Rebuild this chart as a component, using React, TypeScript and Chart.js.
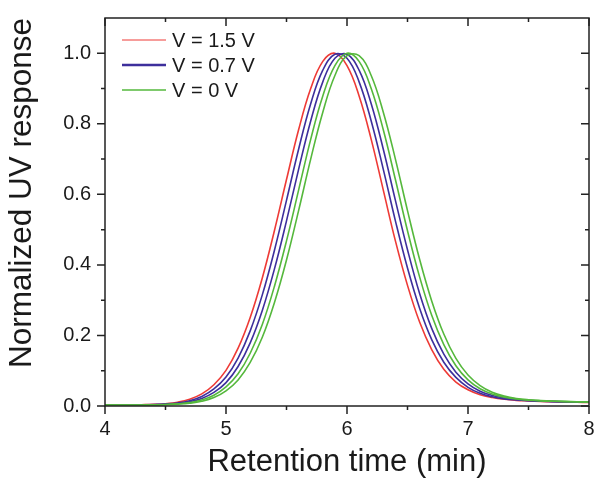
import React, { useEffect, useRef } from 'react';
import { Chart, registerables } from 'chart.js';

Chart.register(...registerables);

// Retention time grid (min)
const retentionTime = [
  4.0, 4.1, 4.2, 4.3, 4.4, 4.5, 4.6, 4.7, 4.8, 4.9,
  5.0, 5.1, 5.2, 5.3, 5.4, 5.5, 5.6, 5.7, 5.8, 5.9,
  6.0, 6.1, 6.2, 6.3, 6.4, 6.5, 6.6, 6.7, 6.8, 6.9,
  7.0, 7.1, 7.2, 7.3, 7.4, 7.5, 7.6, 7.7, 7.8, 7.9,
  8.0,
];

// V = 1.5 V
const v15 = [
  0.003, 0.003, 0.003, 0.0036, 0.0045, 0.0066, 0.0108, 0.0191, 0.0342, 0.0603,
  0.101, 0.164, 0.251, 0.363, 0.497, 0.642, 0.783, 0.9, 0.977, 1.0,
  0.965, 0.879, 0.756, 0.612, 0.468, 0.342, 0.238, 0.16, 0.104, 0.068,
  0.046, 0.032, 0.024, 0.019, 0.016, 0.0145, 0.013, 0.012, 0.011, 0.0105,
  0.01,
];

// V = 0.7 V (two traces)
const v07a = [
  0.003, 0.003, 0.003, 0.0034, 0.0041, 0.0056, 0.0087, 0.0151, 0.0271, 0.0483,
  0.0822, 0.136, 0.213, 0.315, 0.441, 0.583, 0.728, 0.857, 0.952, 0.997,
  0.986, 0.919, 0.808, 0.671, 0.525, 0.391, 0.277, 0.188, 0.124, 0.081,
  0.053, 0.036, 0.026, 0.02, 0.017, 0.015, 0.0135, 0.0125, 0.0115, 0.011,
  0.0105,
];
const v07b = [
  0.003, 0.003, 0.003, 0.003, 0.0037, 0.0048, 0.0072, 0.0121, 0.0214, 0.0384,
  0.0663, 0.112, 0.179, 0.271, 0.388, 0.525, 0.671, 0.808, 0.919, 0.986,
  0.997, 0.952, 0.857, 0.728, 0.583, 0.443, 0.319, 0.22, 0.147, 0.096,
  0.063, 0.042, 0.03, 0.0227, 0.0186, 0.016, 0.014, 0.013, 0.012, 0.011,
  0.0105,
];

// V = 0 V (two traces)
const v0a = [
  0.003, 0.003, 0.003, 0.003, 0.0035, 0.0043, 0.0061, 0.0097, 0.017, 0.0305,
  0.054, 0.0913, 0.1495, 0.231, 0.339, 0.468, 0.612, 0.756, 0.879, 0.965,
  1.0, 0.977, 0.9, 0.783, 0.642, 0.497, 0.366, 0.257, 0.174, 0.114,
  0.074, 0.049, 0.034, 0.025, 0.02, 0.0165, 0.0145, 0.0135, 0.0125, 0.0115,
  0.011,
];
const v0b = [
  0.003, 0.003, 0.003, 0.003, 0.003, 0.0039, 0.0052, 0.0079, 0.0135, 0.0241,
  0.0431, 0.0739, 0.1235, 0.195, 0.293, 0.414, 0.554, 0.7, 0.833, 0.937,
  0.993, 0.993, 0.937, 0.833, 0.7, 0.554, 0.416, 0.298, 0.204, 0.135,
  0.088, 0.058, 0.039, 0.028, 0.0214, 0.0177, 0.0155, 0.014, 0.013, 0.012,
  0.0115,
];

const legendLabels = ['V = 1.5 V', 'V = 0.7 V', 'V = 0 V'];
const xMajorTicks = [4, 5, 6, 7, 8];
const xMinorTicks = [4.5, 5.5, 6.5, 7.5];
const yMajorTicks = [0, 0.2, 0.4, 0.6, 0.8, 1.0];
const yMinorTicks = [0.1, 0.3, 0.5, 0.7, 0.9];

const RED = '#ee3a36';
const BLUE = '#3d2f9c';
const GREEN = '#55b83c';
const FONT = "'Liberation Sans', Arial, sans-serif";

const toPts = (ys: number[]) => ys.map((y, i) => ({ x: retentionTime[i], y }));

const decorPlugin = {
  id: 'decor',
  afterDraw(chart: any) {
    const { ctx, chartArea: a, scales } = chart;
    const x = scales.x;
    const y = scales.y;
    ctx.save();
    ctx.strokeStyle = '#222';
    ctx.lineWidth = 1.5;
    ctx.strokeRect(a.left, a.top, a.right - a.left, a.bottom - a.top);
    const drawX = (v: number, len: number) => {
      const px = x.getPixelForValue(v);
      ctx.beginPath();
      ctx.moveTo(px, a.bottom);
      ctx.lineTo(px, a.bottom + len);
      ctx.moveTo(px, a.top);
      ctx.lineTo(px, a.top + len);
      ctx.stroke();
    };
    const drawY = (v: number, len: number) => {
      const py = y.getPixelForValue(v);
      ctx.beginPath();
      ctx.moveTo(a.left - len, py);
      ctx.lineTo(a.left, py);
      ctx.moveTo(a.right, py);
      ctx.lineTo(a.right - len, py);
      ctx.stroke();
    };
    xMajorTicks.forEach((v) => drawX(v, 8));
    xMinorTicks.forEach((v) => drawX(v, 4));
    yMajorTicks.forEach((v) => drawY(v, 8));
    yMinorTicks.forEach((v) => drawY(v, 4));

    // y-axis title
    ctx.fillStyle = '#1a1a1a';
    ctx.font = `31.5px ${FONT}`;
    ctx.textAlign = 'center';
    ctx.textBaseline = 'middle';
    ctx.save();
    ctx.translate(22, 193);
    ctx.rotate(-Math.PI / 2);
    ctx.fillText('Normalized UV response', 0, 0);
    ctx.restore();

    // legend
    const colors = [RED, BLUE, GREEN];
    const widths = [1, 2.5, 1.5];
    ctx.font = `20px ${FONT}`;
    ctx.textAlign = 'left';
    legendLabels.forEach((lab, i) => {
      const ly = a.top + 22 + i * 25;
      ctx.strokeStyle = colors[i];
      ctx.lineWidth = widths[i];
      ctx.beginPath();
      ctx.moveTo(a.left + 17, ly);
      ctx.lineTo(a.left + 61, ly);
      ctx.stroke();
      ctx.fillStyle = '#1a1a1a';
      ctx.fillText(lab, a.left + 67, ly + 1);
    });
    ctx.restore();
  },
};

export default function App() {
  const ref = useRef<HTMLCanvasElement | null>(null);
  useEffect(() => {
    document.body.style.margin = '0';
    const canvas = ref.current;
    if (!canvas) return;
    const line = (data: number[], color: string, order: number) => ({
      data: toPts(data),
      borderColor: color,
      backgroundColor: color,
      borderWidth: 1.6,
      pointRadius: 0,
      tension: 0.4,
      fill: false,
      order,
    });
    const chart = new Chart(canvas, {
      type: 'line',
      data: {
        datasets: [
          line(v15, RED, 4),
          line(v07a, BLUE, 3),
          line(v07b, BLUE, 2),
          line(v0a, GREEN, 1),
          line(v0b, GREEN, 0),
        ],
      },
      options: {
        animation: false,
        responsive: false,
        maintainAspectRatio: false,
        layout: { padding: { left: 0, top: 15, right: 6, bottom: 0 } },
        plugins: { legend: { display: false }, tooltip: { enabled: false } },
        scales: {
          x: {
            type: 'linear',
            min: 4,
            max: 8,
            afterFit: (s: any) => { s.height = 78; s.paddingRight = 0; },
            afterBuildTicks: (s: any) => { s.ticks = xMajorTicks.map((v) => ({ value: v })); },
            grid: { display: true, drawOnChartArea: false, drawTicks: true, tickLength: 8, color: 'rgba(0,0,0,0)' },
            border: { display: false },
            ticks: {
              padding: 3,
              color: '#1a1a1a',
              font: { family: FONT, size: 20 },
              maxRotation: 0,
              callback: (v: any) => String(v),
            },
            title: {
              display: true,
              text: 'Retention time (min)',
              color: '#1a1a1a',
              font: { family: FONT, size: 31 },
              padding: { top: 0, bottom: 3 },
            },
          },
          y: {
            type: 'linear',
            min: 0,
            max: 1.1,
            afterFit: (s: any) => { s.width = 105; },
            afterBuildTicks: (s: any) => { s.ticks = yMajorTicks.map((v) => ({ value: v })); },
            grid: { display: true, drawOnChartArea: false, drawTicks: true, tickLength: 8, color: 'rgba(0,0,0,0)' },
            border: { display: false },
            ticks: {
              padding: 6,
              color: '#1a1a1a',
              font: { family: FONT, size: 20 },
              callback: (v: any) => Number(v).toFixed(1),
            },
          },
        },
      },
      plugins: [decorPlugin],
    });
    return () => chart.destroy();
  }, []);
  return (
    <div style={{ width: 595, height: 484 }}>
      <canvas ref={ref} width={595} height={484} style={{ width: 595, height: 484, display: 'block' }} />
    </div>
  );
}
